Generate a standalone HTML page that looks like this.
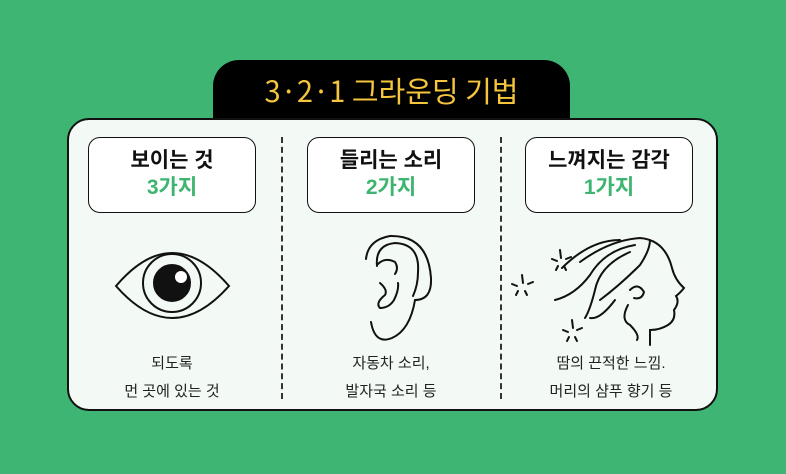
<!DOCTYPE html>
<html><head><meta charset="utf-8"><style>
body{margin:0;width:786px;height:474px;background:#3fb573;position:relative;overflow:hidden;font-family:"Liberation Sans","Noto Sans CJK KR",sans-serif}
.tab{position:absolute;left:213px;top:60px;width:357px;height:70px;background:#000;border-radius:26px 26px 0 0}
.title{position:absolute;left:213px;top:70px;width:357px;text-align:center;color:#f5c53e;font-size:29px;font-family:"Noto Sans CJK KR",sans-serif;font-weight:400;line-height:40px}
.panel{position:absolute;left:67px;top:118px;width:651px;height:293px;background:#f3f9f4;border:2px solid #111;border-radius:22px;box-sizing:border-box}
.box{position:absolute;top:137px;width:168px;height:76px;border:1.5px solid #111;border-radius:12px;background:#fff;box-sizing:border-box;text-align:center}
.box .a{font-size:21px;font-weight:bold;color:#111;margin-top:9px;line-height:27px}
.box .b{font-size:21px;font-weight:bold;color:#3db46f;line-height:28px}
.dash{position:absolute;top:137px;height:262px;border-left:2px dashed #333}
.cap{position:absolute;top:350px;width:220px;text-align:center;font-size:15px;line-height:28px;color:#222}
</style></head><body>
<div class="tab"></div>
<div class="title">3·2·1 그라운딩 기법</div>
<div class="panel"></div>
<div class="box" style="left:88px"><div class="a">보이는 것</div><div class="b">3가지</div></div>
<div class="box" style="left:307px"><div class="a">들리는 소리</div><div class="b">2가지</div></div>
<div class="box" style="left:525px"><div class="a">느껴지는 감각</div><div class="b">1가지</div></div>
<div class="dash" style="left:281px"></div>
<div class="dash" style="left:500px"></div>
<svg style="position:absolute;left:0;top:0" width="786" height="474" fill="none" stroke="#111" stroke-width="2" stroke-linecap="round">
<path d="M116 286 Q172 220 229 286 Q172 350 116 286Z"/>
<circle cx="172" cy="283" r="29"/>
<circle cx="172" cy="283" r="18" fill="#111"/>
<circle cx="181" cy="277" r="6" fill="#fff" stroke="none"/>
<path d="M366 259 Q368 240 390 236 Q428 235 431 278 Q432 300 415 300"/>
<path d="M377 266 Q375 245 395 243 Q420 244 418 272 Q418 285 413 296"/>
<path d="M378 264 Q385 257 395 262 Q399 268 395 274"/>
<path d="M380 283 Q388 290 385 295 Q375 303 380 308 Q389 308 394 300 Q399 290 398 283"/>
<path d="M415 300 Q410 330 392 338 Q375 345 371 322"/>
<path d="M580 262 Q610 240 640 238 Q665 240 672 268 Q675 280 684 288 Q680 293 676 296 Q680 302 674 310 Q676 320 668 325 Q660 330 650 330 L650 345"/>
<path d="M600 300 Q620 285 640 265 Q650 250 650 240"/>
<path d="M635 245 Q605 250 590 275 Q575 295 555 300"/>
<path d="M562 268 Q590 240 620 240"/>
<path d="M630 252 Q600 265 595 290 Q590 310 585 318"/>
<path d="M615 300 Q600 320 590 318"/>
<path d="M628 305 Q620 320 630 325 Q640 335 637 340"/>
<path d="M630 290 Q638 282 644 292 Q642 300 634 298"/>
<path d="M560 250 l1 8 M552 259 l5 2 M566 259 l5 -2 M556 270 l2 -4 M566 270 l-2 -4"/>
<path d="M522 275 l1 8 M512 284 l5 2 M528 284 l5 -2 M516 295 l2 -4 M527 295 l-2 -4"/>
<path d="M572 320 l1 8 M563 330 l5 2 M577 330 l5 -2 M567 341 l2 -4 M577 341 l-2 -4"/>
</svg>
<div class="cap" style="left:62px">되도록<br>먼 곳에 있는 것</div>
<div class="cap" style="left:281px">자동차 소리,<br>발자국 소리 등</div>
<div class="cap" style="left:501px">땀의 끈적한 느낌.<br>머리의 샴푸 향기 등</div>
</body></html>
